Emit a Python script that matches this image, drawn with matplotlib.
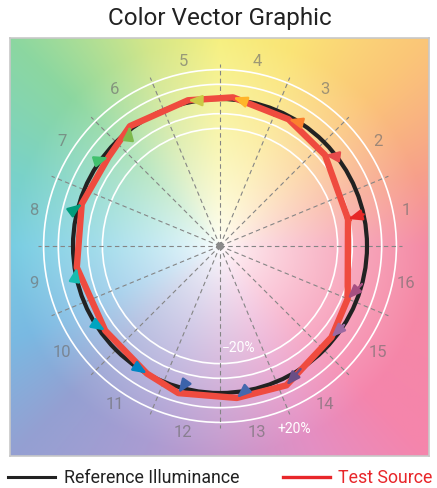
import numpy as np
import matplotlib
matplotlib.use('Agg')
import matplotlib.pyplot as plt
from matplotlib.patches import Circle, FancyArrowPatch
from matplotlib.lines import Line2D

# ---- data -------------------------------------------------------------
bins = [str(i) for i in range(1, 17)]
ref_angle = [12.4, 37.5, 57.3, 81.0, 98.3, 128.0, 144.0, 164.4,
             191.0, 212.4, 235.3, 255.0, 279.7, 303.2, 327.5, 345.0]
test_angle = [11.9, 40.9, 61.6, 85.0, 102.4, 126.9, 141.5, 163.1,
              188.5, 216.4, 240.2, 254.2, 276.3, 295.5, 320.7, 337.5]
test_ratio = [0.89, 0.945, 0.98, 1.015, 1.015, 1.02, 0.97, 0.983,
              0.985, 0.97, 1.0, 1.04, 1.04, 1.05, 0.98, 0.94]
arrow_colors = ['#e62828', '#e74b4b', '#fb812e', '#ffb529', '#cbca46', '#7eb94c',
                '#41c06d', '#009c7c', '#16bcb0', '#00a4bf', '#0085c3', '#3b62aa',
                '#4568ae', '#6a4e85', '#9d69a1', '#a74f81']
ring_levels = [0.8, 0.9, 1.1, 1.2]
title = 'Color Vector Graphic'
legend_labels = ['Reference Illuminance', 'Test Source']

plt.rcParams['font.family'] = ['Roboto', 'DejaVu Sans']

W, H = 437, 489
fig = plt.figure(figsize=(W / 100, H / 100), dpi=100)
ax = fig.add_axes([10 / W, (H - 457) / H, 419 / W, 418 / H])
R = 147.0
xl = (-210 / R, 209 / R)
yl = (-210 / R, 208 / R)

# ---- background hue wheel ---------------------------------------------
anc_a = np.array([0, 20, 45, 70, 90, 110, 135, 160, 180, 205, 225, 250, 270, 295, 315, 340, 360])
anc_c = np.array([
    (244, 138, 165), (247, 160, 138), (251, 198, 120), (250, 228, 118), (246, 240, 128),
    (210, 230, 138), (140, 215, 160), (122, 210, 200), (120, 205, 226), (122, 185, 226),
    (148, 160, 210), (170, 156, 210), (196, 153, 205), (228, 143, 195), (245, 133, 172),
    (245, 136, 166), (244, 138, 165)]) / 255.0
n = 500
xs = np.linspace(xl[0], xl[1], n)
ys = np.linspace(yl[1], yl[0], n)
X, Y = np.meshgrid(xs, ys)
ang = np.degrees(np.arctan2(Y, X)) % 360
rad = np.hypot(X, Y)
img = np.zeros((n, n, 3))
for k in range(3):
    img[..., k] = np.interp(ang, anc_a, anc_c[:, k])
f = np.clip(rad / 1.42, 0, 1) ** 0.72
img = 1 - f[..., None] * (1 - img)
ax.imshow(img, extent=[xl[0], xl[1], yl[0], yl[1]], zorder=0, interpolation='bilinear')

# ---- grid -------------------------------------------------------------
for lv in ring_levels:
    ax.add_patch(Circle((0, 0), lv, fill=False, ec='white', lw=1.2, zorder=2))
for k in range(16):
    t = np.radians(k * 22.5)
    ax.plot([0, 1.24 * np.cos(t)], [0, 1.24 * np.sin(t)], color='#858585', lw=0.8,
            ls=(0, (4, 3)), zorder=3)
ax.add_patch(Circle((0, 0), 0.02, color='#8a8a8a', zorder=3))

for i, lab in enumerate(bins):
    t = np.radians((i + 0.5) * 22.5)
    ax.text(1.29 * np.cos(t), 1.29 * np.sin(t), lab, ha='center', va='center',
            fontsize=12, color='#6e6e6e', alpha=0.65, zorder=3)

ax.text(0.125, -0.69, '\u221220%', color='white', fontsize=10, ha='center', va='center', zorder=3)
ax.text(0.505, -1.24, '+20%', color='white', fontsize=10, ha='center', va='center', zorder=3)

# ---- reference & test -------------------------------------------------
ax.add_patch(Circle((0, 0), 1.0, fill=False, ec='#222222', lw=3.0, zorder=4))
ta = np.radians(np.array(test_angle))
tr = np.array(test_ratio)
tx, ty = tr * np.cos(ta), tr * np.sin(ta)
ax.plot(np.append(tx, tx[0]), np.append(ty, ty[0]), color='#ef4b3f', lw=4.6,
        solid_joinstyle='round', zorder=5)

for i in range(16):
    ra = np.radians(ref_angle[i])
    p0 = (np.cos(ra), np.sin(ra))
    p1 = (tx[i], ty[i])
    ax.add_patch(FancyArrowPatch(p0, p1, arrowstyle='-|>,head_length=0.8,head_width=0.32',
                                 mutation_scale=10, color=arrow_colors[i], lw=1.8,
                                 shrinkA=0, shrinkB=0, zorder=6))

ax.set_xlim(*xl)
ax.set_ylim(*yl)
ax.set_xticks([])
ax.set_yticks([])
for s in ax.spines.values():
    s.set_color('#c8c8c8')
    s.set_linewidth(1.2)

# ---- title & legend ---------------------------------------------------
fig.text(220 / W, 1 - 19 / H, title, ha='center', va='center', fontsize=17.5,
         fontweight='normal', color='#222222')
ly = 1 - 478 / H
fig.add_artist(Line2D([8 / W, 55 / W], [ly, ly], color='#222222', lw=2.2))
fig.text(64 / W, ly, legend_labels[0], ha='left', va='center', fontsize=12.8, color='#222222')
fig.add_artist(Line2D([283 / W, 330 / W], [ly, ly], color='#e8262a', lw=2.4))
fig.text(338 / W, ly, legend_labels[1], ha='left', va='center', fontsize=12.8, color='#e8262a')

fig.savefig('out.png', dpi=100)
